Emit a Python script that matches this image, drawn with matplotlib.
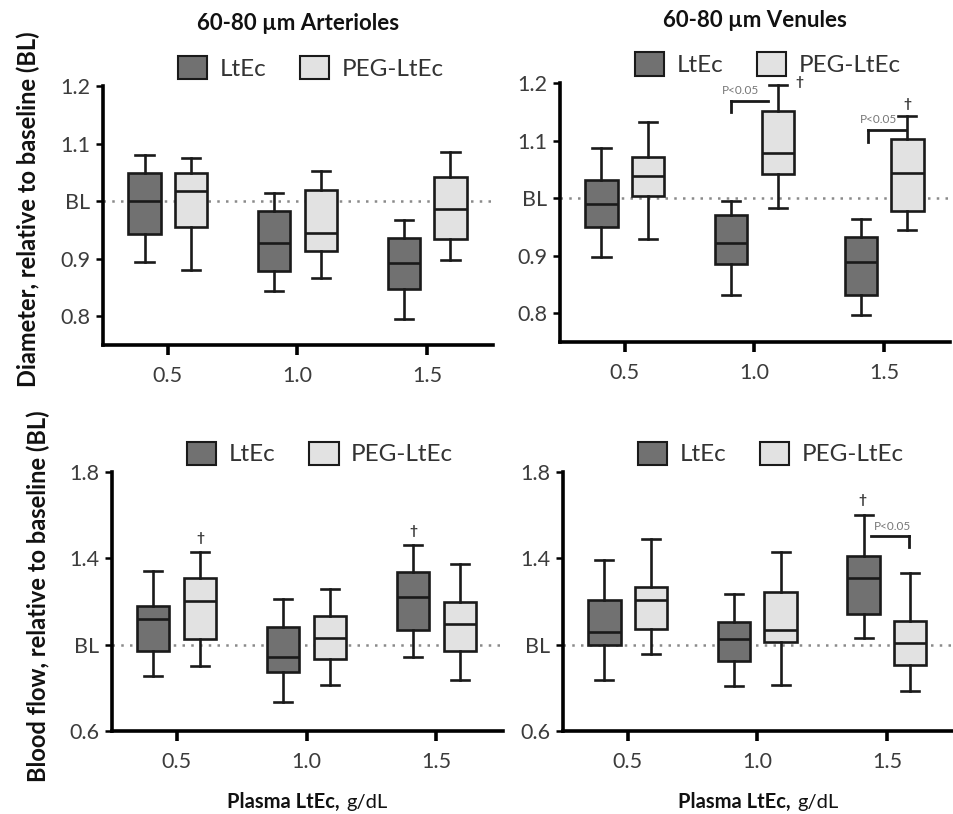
import matplotlib.pyplot as plt
from matplotlib.patches import Patch
from matplotlib.offsetbox import TextArea, HPacker, AnchoredOffsetbox

plt.rcParams['font.family'] = ['Lato', 'DejaVu Sans']

doses = [0.5, 1.0, 1.5]
dose_labels = ['0.5', '1.0', '1.5']
series = ['LtEc', 'PEG-LtEc']

# five-number summaries per dose: whisker low, Q1, median, Q3, whisker high
art_diam_ltec = [[0.894, 0.944, 1.000, 1.049, 1.080],
                 [0.844, 0.879, 0.928, 0.983, 1.014],
                 [0.796, 0.848, 0.893, 0.936, 0.968]]
art_diam_peg = [[0.881, 0.956, 1.018, 1.049, 1.076],
                [0.867, 0.914, 0.945, 1.019, 1.053],
                [0.898, 0.934, 0.986, 1.042, 1.086]]
ven_diam_ltec = [[0.897, 0.949, 0.990, 1.032, 1.087],
                 [0.832, 0.886, 0.922, 0.971, 0.995],
                 [0.797, 0.831, 0.888, 0.933, 0.963]]
ven_diam_peg = [[0.928, 1.004, 1.039, 1.072, 1.132],
                [0.982, 1.042, 1.078, 1.152, 1.197],
                [0.945, 0.978, 1.043, 1.103, 1.143]]
art_flow_ltec = [[0.854, 0.969, 1.118, 1.180, 1.342],
                 [0.734, 0.872, 0.942, 1.080, 1.212],
                 [0.943, 1.066, 1.223, 1.335, 1.462]]
art_flow_peg = [[0.903, 1.026, 1.203, 1.308, 1.428],
                [0.812, 0.934, 1.031, 1.135, 1.258],
                [0.838, 0.969, 1.097, 1.200, 1.374]]
ven_flow_ltec = [[0.834, 1.000, 1.057, 1.205, 1.392],
                 [0.808, 0.926, 1.028, 1.105, 1.235],
                 [1.031, 1.143, 1.308, 1.411, 1.600]]
ven_flow_peg = [[0.957, 1.072, 1.205, 1.266, 1.488],
                [0.811, 1.011, 1.069, 1.246, 1.431],
                [0.785, 0.908, 1.008, 1.108, 1.334]]

diam_ticks = [0.8, 0.9, 1.0, 1.1, 1.2]
diam_ticklabels = ['0.8', '0.9', 'BL', '1.1', '1.2']
flow_ticks = [0.6, 1.0, 1.4, 1.8]
flow_ticklabels = ['0.6', 'BL', '1.4', '1.8']

dark = '#717171'
light = '#e2e2e2'
tick_col = '#3c3c3c'


def stats_from(rows):
    out = []
    for lo, q1, med, q3, hi in rows:
        out.append(dict(whislo=lo, q1=q1, med=med, q3=q3, whishi=hi, fliers=[]))
    return out


def draw_panel(ax, ltec, peg, ticks, ticklabels, ylim):
    ax.axhline(1.0, color='#8a8a8a', ls=(0, (1, 2.5)), lw=1.8, zorder=0)
    for rows, off, col in [(ltec, -0.09, dark), (peg, 0.09, light)]:
        ax.bxp(stats_from(rows), positions=[d + off for d in doses], widths=0.125,
               capwidths=0.07, patch_artist=True, showfliers=False,
               boxprops=dict(facecolor=col, edgecolor='#1a1a1a', linewidth=1.9),
               medianprops=dict(color='#1a1a1a', linewidth=1.9),
               whiskerprops=dict(color='#1a1a1a', linewidth=1.9),
               capprops=dict(color='#1a1a1a', linewidth=1.9))
    ax.set_xlim(0.25, 1.755)
    ax.set_ylim(*ylim)
    ax.set_xticks(doses)
    ax.set_xticklabels(dose_labels)
    ax.set_yticks(ticks)
    ax.set_yticklabels(ticklabels)
    for s in ['top', 'right']:
        ax.spines[s].set_visible(False)
    for s in ['left', 'bottom']:
        ax.spines[s].set_linewidth(2.6)
    ax.tick_params(axis='x', length=7, width=2.6, pad=8, labelsize=15.5, labelcolor=tick_col)
    ax.tick_params(axis='y', length=5, width=1.8, pad=4, labelsize=15.5, labelcolor=tick_col)
    handles = [Patch(facecolor=dark, edgecolor='#1a1a1a', lw=1.5),
               Patch(facecolor=light, edgecolor='#1a1a1a', lw=1.5)]
    ax.legend(handles, series, loc='center', bbox_to_anchor=(0.533, 1.072), ncol=2,
              frameon=False, fontsize=17.5, handlelength=1.2, handleheight=1.1,
              handletextpad=0.5, columnspacing=1.4, labelcolor='#333333')


def p_bracket(ax, x0, x1, y, leg_x, leg_y, tx, ty):
    ax.plot([x0, x1], [y, y], color='#1a1a1a', lw=2)
    ax.plot([leg_x, leg_x], [y, leg_y], color='#1a1a1a', lw=2)
    ax.text(tx, ty, 'P<0.05', fontsize=8.5, color='#777777', ha='center', va='center')


def dagger(ax, x, y):
    ax.text(x, y, '\u2020', fontsize=10, color='#333333', ha='center', va='center',
            fontweight='bold')


fig = plt.figure(figsize=(9.54, 8.14), dpi=100)
ax_tl = fig.add_axes([0.108, 0.576, 0.409, 0.318])
ax_tr = fig.add_axes([0.587, 0.580, 0.409, 0.318])
ax_bl = fig.add_axes([0.117, 0.102, 0.410, 0.318])
ax_br = fig.add_axes([0.590, 0.102, 0.409, 0.318])

draw_panel(ax_tl, art_diam_ltec, art_diam_peg, diam_ticks, diam_ticklabels, (0.75, 1.2))
draw_panel(ax_tr, ven_diam_ltec, ven_diam_peg, diam_ticks, diam_ticklabels, (0.75, 1.2))
draw_panel(ax_bl, art_flow_ltec, art_flow_peg, flow_ticks, flow_ticklabels, (0.6, 1.8))
draw_panel(ax_br, ven_flow_ltec, ven_flow_peg, flow_ticks, flow_ticklabels, (0.6, 1.8))

ax_tl.text(0.5, 1.243, '60-80 \u00b5m Arterioles', transform=ax_tl.transAxes,
           ha='center', va='center', fontsize=16, fontweight='bold', color='#111111')
ax_tr.text(0.5, 1.243, '60-80 \u00b5m Venules', transform=ax_tr.transAxes,
           ha='center', va='center', fontsize=16, fontweight='bold', color='#111111')

# significance marks
p_bracket(ax_tr, 0.909, 1.053, 1.168, 0.909, 1.149, 0.948, 1.187)
p_bracket(ax_tr, 1.437, 1.585, 1.119, 1.437, 1.098, 1.477, 1.136)
p_bracket(ax_br, 1.44, 1.587, 1.503, 1.587, 1.451, 1.523, 1.546)
dagger(ax_tr, 1.173, 1.202)
dagger(ax_tr, 1.591, 1.163)
dagger(ax_bl, 0.59, 1.495)
dagger(ax_bl, 1.41, 1.528)
dagger(ax_br, 1.405, 1.672)

fig.text(0.030, 0.743, 'Diameter, relative to baseline (BL)', rotation=90,
         ha='center', va='center', fontsize=17, fontweight='bold', color='#111111')
fig.text(0.040, 0.267, 'Blood flow, relative to baseline (BL)', rotation=90,
         ha='center', va='center', fontsize=17, fontweight='bold', color='#111111')

for ax in [ax_bl, ax_br]:
    lab = HPacker(children=[
        TextArea('Plasma LtEc,', textprops=dict(fontsize=14.5, fontweight='bold', color='#111111')),
        TextArea('g/dL', textprops=dict(fontsize=14.5, color='#111111'))],
        align='baseline', pad=0, sep=5)
    box = AnchoredOffsetbox(loc='center', child=lab, frameon=False, pad=0,
                            bbox_to_anchor=(0.5, -0.274), bbox_transform=ax.transAxes)
    ax.add_artist(box)

fig.savefig('out.png', dpi=100)
